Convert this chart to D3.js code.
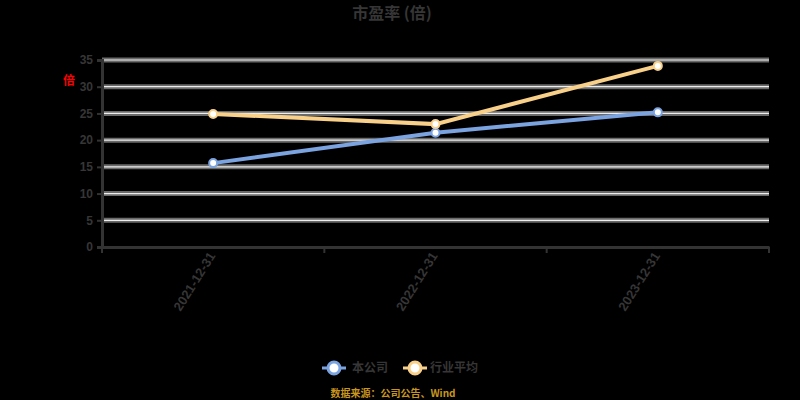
<!DOCTYPE html>
<html><head><meta charset="utf-8">
<script src="https://cdn.jsdelivr.net/npm/d3@7"></script>
<style>html,body{margin:0;padding:0;background:#000;}svg{display:block;font-family:"Noto Sans CJK SC","Noto Sans",sans-serif;}</style>
</head><body><svg id="c" width="800" height="400"></svg>
<script>
const categories = ["2021-12-31", "2022-12-31", "2023-12-31"];
const seriesNames = ["本公司", "行业平均"];
const companyValues = [15.7, 21.4, 25.2];
const industryValues = [24.9, 23.0, 33.9];
const yTicks = [0, 5, 10, 15, 20, 25, 30, 35];
const titleText = "市盈率 (倍)";
const unitText = "倍";
const footerText = "数据来源：公司公告、Wind";
const colors = ["#7aa3e0", "#f8d08a"];

const svg = d3.select("#c");
svg.append("rect").attr("width", 800).attr("height", 400).attr("fill", "#000");
const m = {l: 102, r: 769, t: 60, b: 247};
const x = d3.scaleBand().domain(categories).range([m.l, m.r]);
const y = d3.scaleLinear().domain([0, 35]).range([m.b, m.t]);

// gridlines
const g = svg.append("g");
yTicks.filter(v => v > 0).forEach(v => {
  g.append("line").attr("x1", m.l).attr("x2", m.r).attr("y1", y(v)).attr("y2", y(v))
    .attr("stroke", "#6a6a6a").attr("stroke-width", 5);
  g.append("line").attr("x1", m.l).attr("x2", m.r).attr("y1", y(v)).attr("y2", y(v))
    .attr("stroke", "#eee").attr("stroke-width", 1.2);
});

// axes
const yAxis = svg.append("g").attr("transform", `translate(${m.l},0)`)
  .call(d3.axisLeft(y).tickValues(yTicks).tickSize(5).tickPadding(4));
yAxis.select(".domain").attr("stroke", "#333").attr("stroke-width", 3);
yAxis.selectAll(".tick line").attr("stroke", "#333").attr("stroke-width", 2);
yAxis.selectAll("text").attr("fill", "#363636").attr("font-size", 12).attr("font-weight", "bold");

const xAxis = svg.append("g").attr("transform", `translate(0,${m.b})`)
  .call(d3.axisBottom(x).tickSize(0).tickPadding(8));
xAxis.select(".domain").attr("stroke", "#333").attr("stroke-width", 3);
xAxis.selectAll("text").attr("fill", "#363636").attr("font-size", 13).attr("font-weight", "bold")
  .attr("text-anchor", "end").attr("dy", "0.35em")
  .attr("transform", d => `translate(-8,2) rotate(-58)`);
// boundary ticks
const bounds = [m.l].concat(categories.map(c => x(c) + x.bandwidth()));
svg.append("g").selectAll("line").data(bounds).join("line")
  .attr("x1", d => d).attr("x2", d => d).attr("y1", m.b).attr("y2", m.b + 6)
  .attr("stroke", "#333").attr("stroke-width", 2);

// series
const cx = c => x(c) + x.bandwidth() / 2;
const series = [companyValues, industryValues];
series.forEach((vals, i) => {
  const line = d3.line().x((d, j) => cx(categories[j])).y(d => y(d));
  svg.append("path").datum(vals).attr("d", line).attr("fill", "none")
    .attr("stroke", colors[i]).attr("stroke-width", 4);
  svg.append("g").selectAll("circle").data(vals).join("circle")
    .attr("cx", (d, j) => cx(categories[j])).attr("cy", d => y(d)).attr("r", 4)
    .attr("fill", "#fff").attr("stroke", colors[i]).attr("stroke-width", 2);
});

// title
svg.append("text").attr("x", 392).attr("y", 19).attr("text-anchor", "middle")
  .attr("fill", "#363636").attr("font-size", 16).attr("font-weight", "bold").text(titleText);
// unit
svg.append("text").attr("x", 69).attr("y", 85).attr("text-anchor", "middle")
  .attr("fill", "#ff0000").attr("font-size", 12).attr("font-weight", "bold").text(unitText);

// legend
const lg = svg.append("g");
const legendItems = [{x: 322, tx: 352}, {x: 403, tx: 430}];
legendItems.forEach((it, i) => {
  lg.append("line").attr("x1", it.x).attr("x2", it.x + 24).attr("y1", 368).attr("y2", 368)
    .attr("stroke", colors[i]).attr("stroke-width", 3);
  lg.append("circle").attr("cx", it.x + 12).attr("cy", 368).attr("r", 6)
    .attr("fill", "#fff").attr("stroke", colors[i]).attr("stroke-width", 3);
  lg.append("text").attr("x", it.tx).attr("y", 372).attr("fill", "#363636")
    .attr("font-size", 12).attr("font-weight", "bold").text(seriesNames[i]);
});

// footer
svg.append("text").attr("x", 393).attr("y", 397).attr("text-anchor", "middle")
  .attr("fill", "#c8961e").attr("font-size", 10).attr("font-weight", "bold").text(footerText);
</script></body></html>
